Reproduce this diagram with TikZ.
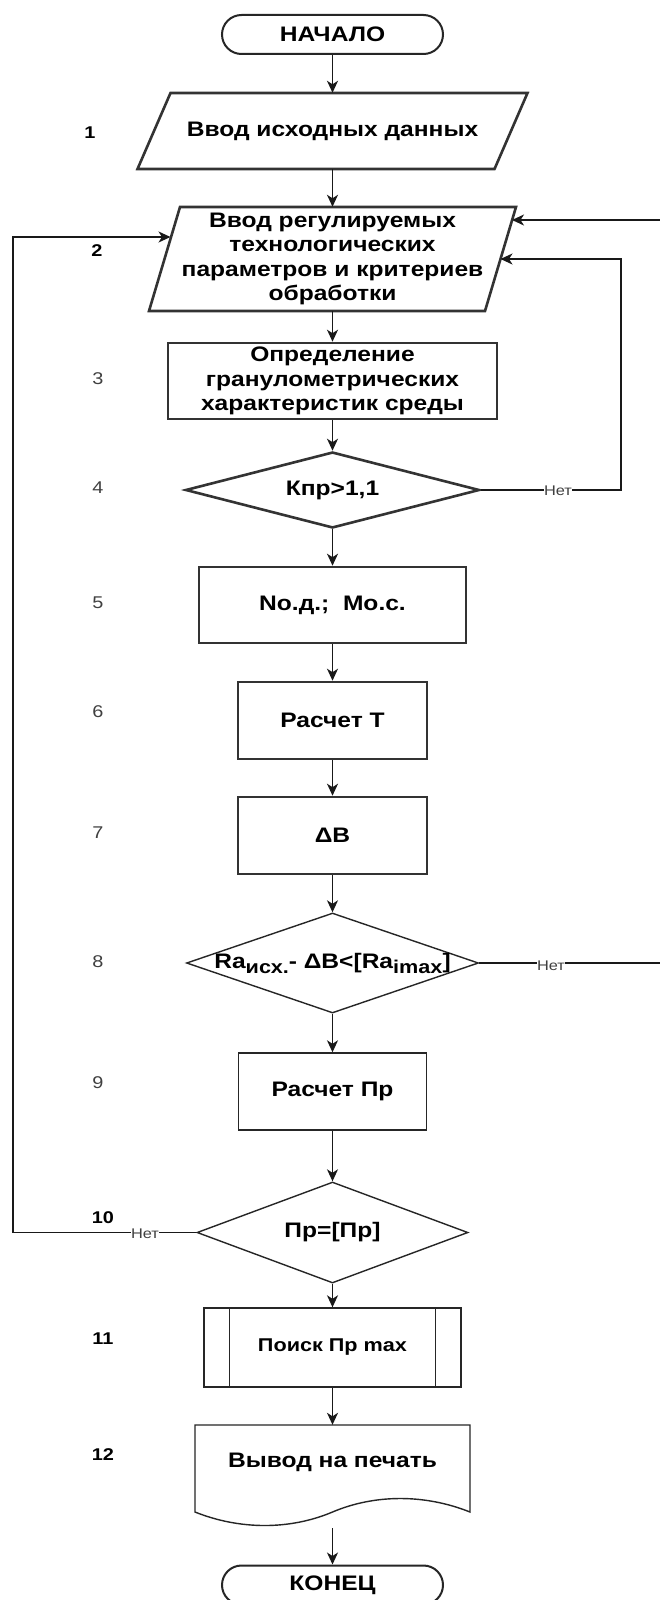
\documentclass[tikz,border=0pt]{standalone}
\usepackage{fontspec}
\setmainfont{Liberation Sans}[FakeStretch=1.17]
\usetikzlibrary{shapes.geometric,arrows.meta,calc}
\begin{document}
\begin{tikzpicture}[x=1pt,y=-1pt,
  txt/.style={font=\fontsize{21}{24.5}\selectfont\bfseries, align=center, inner sep=0pt},
  bd1/.style={draw=black!85, line width=1.4pt},
  bd2/.style={draw=black!85, line width=2pt},
  bd3/.style={draw=black!80, line width=2.6pt},
  arr/.style={draw=black!90, line width=1.5pt, -{Stealth[length=12pt,width=11pt,inset=3.5pt]}},
  num/.style={font=\fontsize{17}{17}\selectfont, text=black!75},
  numb/.style={font=\fontsize{17}{17}\selectfont\bfseries},
  netlbl/.style={font=\fontsize{14}{14}\selectfont, fill=white, inner sep=0.5pt, text=black!75},
  term/.style={txt, rectangle, rounded corners=19.5pt, minimum width=221pt, minimum height=39pt},
  proc/.style={txt, rectangle},
  dia/.style={diamond, inner sep=0pt, font=\fontsize{21}{24.5}\selectfont\bfseries}
]
\fill[white] (0,0) rectangle (659,1600);
\useasboundingbox (0,0) rectangle (659,1600);

% blocks
\node[term, bd2] (start) at (332.5,34.5) {НАЧАЛО};

\node[proc, minimum width=330pt, minimum height=76pt] (p1) at (332.5,131) {Ввод исходных данных};
\draw[bd3] (170.5,93) -- (527.5,93) -- (494.5,169) -- (137.5,169) -- cycle;

\node[proc, minimum width=310pt, minimum height=104pt] (p2) at (332.5,259)
  {Ввод регулируемых\\технологических\\параметров и критериев\\обработки};
\draw[bd3] (180,207) -- (516,207) -- (485,311) -- (149,311) -- cycle;

\node[proc, bd3, minimum width=329pt, minimum height=76pt] (b3) at (332.5,381)
  {Определение\\гранулометрических\\характеристик среды};

\node[dia, bd3, minimum width=294pt, minimum height=76pt] (d4) at (332.5,490) {\makebox[0pt]{Кпр>1,1}};

\node[proc, bd3, minimum width=267pt, minimum height=76pt] (b5) at (332.5,605) {No.д.;\ \ Mo.c.};
\node[proc, bd3, minimum width=189pt, minimum height=77pt] (b6) at (332.5,720.5) {Расчет Т};
\node[proc, bd3, minimum width=189pt, minimum height=77pt] (b7) at (332.5,835.5) {ΔB};

\node[dia, bd1, minimum width=292pt, minimum height=100pt] (d8) at (332.5,963)
  {\makebox[0pt]{Ra\raisebox{-5pt}{\fontsize{18.5}{18.5}\selectfont исх.}- ΔB<[Ra\raisebox{-5pt}{\fontsize{18.5}{18.5}\selectfont imax}]}};

\node[proc, bd1, minimum width=188pt, minimum height=77pt] (b9) at (332.5,1091.5) {Расчет Пр};

\node[dia, bd1, minimum width=271pt, minimum height=101pt] (d10) at (332.5,1232.5) {\makebox[0pt]{Пр=[Пр]}};

\node[proc, bd1, minimum width=257pt, minimum height=79pt, font=\fontsize{18.5}{18.5}\selectfont\bfseries] (b11) at (332.5,1347.5) {Поиск Пр max};
\draw[bd1] ([xshift=26pt]b11.north west) -- ([xshift=26pt]b11.south west);
\draw[bd1] ([xshift=-26pt]b11.north east) -- ([xshift=-26pt]b11.south east);

\node[proc, minimum width=275pt, minimum height=74pt] (b12) at (332.5,1462) {Вывод на печать};
\draw[bd1] (195,1512) -- (195,1425) -- (470,1425) -- (470,1512)
  .. controls (425,1494) and (375,1494) .. (332.5,1512)
  .. controls (290,1530) and (240,1530) .. (195,1512) -- cycle;
\coordinate (b12out) at (332.5,1528);

\node[term, bd2] (end) at (332.5,1585) {КОНЕЦ};

% main flow
\draw[arr] (start.south) -- (p1.north);
\draw[arr] (p1.south) -- (p2.north);
\draw[arr] (p2.south) -- (b3.north);
\draw[arr] (b3.south) -- (d4.north);
\draw[arr] (d4.south) -- (b5.north);
\draw[arr] (b5.south) -- (b6.north);
\draw[arr] (b6.south) -- (b7.north);
\draw[arr] (b7.south) -- (d8.north);
\draw[arr] (d8.south) -- (b9.north);
\draw[arr] (b9.south) -- (d10.north);
\draw[arr] (d10.south) -- (b11.north);
\draw[arr] (b11.south) -- (b12.north);
\draw[arr] (b12out) -- (end.north);

% loops
\coordinate (c4) at (621,259);
\coordinate (p2in2) at (500.5,259);
\draw[arr] (d4.east) -| (c4) -- (p2in2);
\node[netlbl] (n4) at (558,491) {Нет};

\coordinate (c8) at (672,220);
\coordinate (p2in1) at (512,220);
\draw[arr] (d8.east) -| (c8) -- (p2in1);
\node[netlbl] (n8) at (551,966) {Нет};

\coordinate (c10) at (13,237);
\coordinate (p2in3) at (170.5,237);
\draw[arr] (d10.west) -| (c10) -- (p2in3);
\node[netlbl] (n10) at (145,1234) {Нет};

% step numbers
\node[numb] (l1) at (90,133) {1};
\node[numb] (l2) at (97,251) {2};
\node[num] (l3) at (98,379) {3};
\node[num] (l4) at (98,488) {4};
\node[num] (l5) at (98,603) {5};
\node[num] (l6) at (98,712) {6};
\node[num] (l7) at (98,833) {7};
\node[num] (l8) at (98,962) {8};
\node[num] (l9) at (98,1083) {9};
\node[numb] (l10) at (103,1218) {10};
\node[numb] (l11) at (103,1339) {11};
\node[numb] (l12) at (103,1455) {12};
\end{tikzpicture}
\end{document}
